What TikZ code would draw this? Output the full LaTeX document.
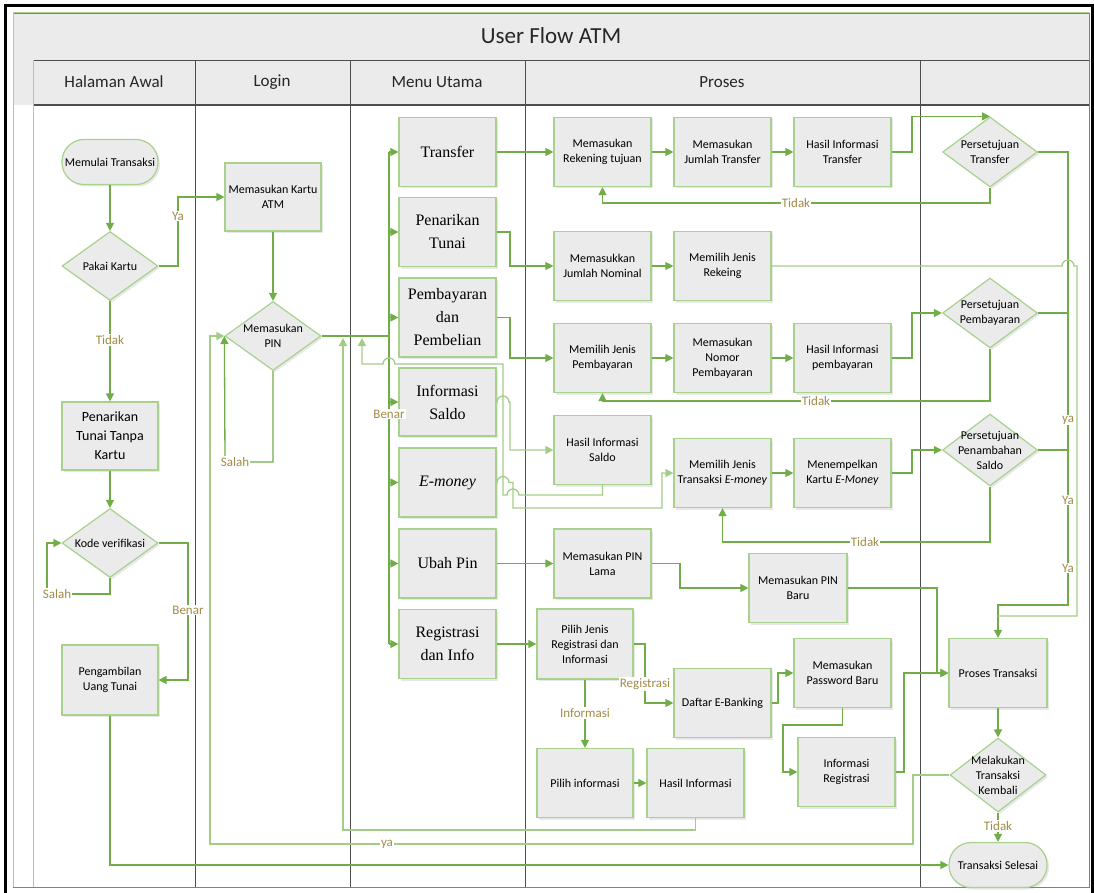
\documentclass[tikz,border=0pt]{standalone}
\usepackage{fontspec}
\setmainfont{Carlito}
\newfontfamily\menufont{Liberation Serif}
\usetikzlibrary{arrows.meta,shapes.geometric,shadows}

\definecolor{boxfill}{HTML}{EBEBEB}
\definecolor{boxline}{HTML}{A9D18E}
\definecolor{flowgreen}{HTML}{70AD47}
\definecolor{backgreen}{HTML}{A3CD86}
\definecolor{lblgold}{HTML}{A08C46}
\definecolor{lanegray}{HTML}{4D4D4D}

\tikzset{
  proc/.style={rectangle, draw=boxline, fill=boxfill, line width=1.2pt,
    minimum width=97pt, minimum height=69pt, inner sep=2pt, align=center,
    font=\fontsize{12}{15}\selectfont,
    drop shadow={shadow xshift=2pt, shadow yshift=-2pt, opacity=.18}},
  menu/.style={proc, font=\menufont\fontsize{16}{23}\selectfont},
  term/.style={proc, rounded corners=22pt, minimum height=45pt},
  dec/.style={diamond, draw=boxline, fill=boxfill, line width=1.2pt,
    minimum width=96pt, minimum height=69pt, inner sep=0pt,
    drop shadow={shadow xshift=2pt, shadow yshift=-2pt, opacity=.18}},
  dectext/.style={align=center, inner sep=0pt, font=\fontsize{12}{15}\selectfont},
  flow/.style={draw=flowgreen, line width=1.3pt, -{Triangle[length=8pt,width=8pt]}},
  link/.style={draw=flowgreen, line width=1.3pt},
  back/.style={draw=backgreen, line width=1.3pt, -{Triangle[length=8pt,width=8pt]}},
  backlink/.style={draw=backgreen, line width=1.3pt},
  lbl/.style={fill=white, text=lblgold, inner sep=1pt, font=\fontsize{13}{13}\selectfont},
  lane/.style={draw=lanegray, line width=0.9pt},
  lanehead/.style={text=black!85, font=\fontsize{17}{17}\selectfont},
}

\begin{document}
\begin{tikzpicture}[x=1pt,y=-1pt]
\useasboundingbox (0,0) rectangle (1094,893);

% swimlanes
\fill[boxfill] (13,13) rectangle (1089,105);
\draw[lane, draw=gray] (13,13) rectangle (1089,887);
\draw[boxline, line width=1pt] (13,887) -- (13,13) -- (1089,13);
\draw[lane] (33,60) -- (1089,60);
\draw[lane, line width=1.5pt] (33,105) -- (1089,105);
\draw[boxline, line width=1pt] (33,60) -- (33,887);
\foreach \x in {195,350,525,920}
  \draw[lane] (\x,60) -- (\x,887);
\node[font=\fontsize{23}{23}\selectfont, text=black!85] (title) at (551,36) {User Flow ATM};
\node[lanehead] (hawal) at (114,82) {Halaman Awal};
\node[lanehead] (hlogin) at (272,82) {Login};
\node[lanehead] (hmenu) at (437,82) {Menu Utama};
\node[lanehead] (hproses) at (722,82) {Proses};
\draw[line width=3pt] (5,900) -- (5,6) -- (1092,6) -- (1092,900);

% halaman awal
\node[term, minimum width=96pt] (start) at (110,162) {Memulai Transaksi};
\node[dec, label={[dectext]center:Pakai Kartu}] (pakai) at (110,266) {};
\node[proc, minimum width=96pt, minimum height=68pt, font=\fontsize{14}{19}\selectfont] (tanpa) at (110,436) {Penarikan\\Tunai Tanpa\\Kartu};
\node[dec, label={[dectext]center:Kode verifikasi}] (kode) at (110,543) {};
\node[proc, minimum width=96pt, minimum height=70pt] (ambil) at (110,680) {Pengambilan\\Uang Tunai};

% login
\node[proc, minimum width=96pt, minimum height=68pt] (kartu) at (273,197) {Memasukan Kartu\\ATM};
\node[dec, label={[dectext]center:{Memasukan\\PIN}}] (pin) at (273,336) {};

% menu utama
\node[menu] (mtransfer) at (447.5,152) {Transfer};
\node[menu] (mtarik) at (447.5,232) {Penarikan\\Tunai};
\node[menu, minimum height=79pt] (mbayar) at (447.5,317.5) {Pembayaran\\dan\\Pembelian};
\node[menu, minimum height=68pt] (msaldo) at (447.5,402) {Informasi\\Saldo};
\node[menu] (memoney) at (447.5,482.5) {\textit{E-money}};
\node[menu] (mubah) at (447.5,563.5) {Ubah Pin};
\node[menu] (mreg) at (447.5,644) {Registrasi\\dan Info};

% proses
\node[proc] (rektuj) at (602.5,152) {Memasukan\\Rekening tujuan};
\node[proc] (jmltrans) at (722.5,152) {Memasukan\\Jumlah Transfer};
\node[proc] (hasiltrans) at (842.5,152) {Hasil Informasi\\Transfer};
\node[proc] (jmlnom) at (602.5,266) {Memasukkan\\Jumlah Nominal};
\node[proc] (jenisrek) at (722.5,266) {Memilih Jenis\\Rekeing};
\node[proc] (jenisbayar) at (602.5,358) {Memilih Jenis\\Pembayaran};
\node[proc] (nomorbayar) at (722.5,358) {Memasukan\\Nomor\\Pembayaran};
\node[proc] (hasilbayar) at (842.5,358) {Hasil Informasi\\pembayaran};
\node[proc] (hasilsaldo) at (602.5,450) {Hasil Informasi\\Saldo};
\node[proc] (jenisemoney) at (722.5,473) {Memilih Jenis\\Transaksi \textit{E-money}};
\node[proc] (tempel) at (842.5,473) {Menempelkan\\Kartu \textit{E-Money}};
\node[proc] (pinlama) at (602.5,563.5) {Memasukan PIN\\Lama};
\node[proc, minimum width=98pt] (pinbaru) at (798,588) {Memasukan PIN\\Baru};
\node[proc, minimum width=96pt, minimum height=70pt] (pilihreg) at (585,644) {Pilih Jenis\\Registrasi dan\\Informasi};
\node[proc] (daftar) at (722.5,703) {Daftar E-Banking};
\node[proc] (password) at (842.5,673) {Memasukan\\Password Baru};
\node[proc] (inforeg) at (846.5,772) {Informasi\\Registrasi};
\node[proc, minimum width=96pt] (pilihinfo) at (585,783) {Pilih informasi};
\node[proc] (hasilinfo) at (695.5,783) {Hasil Informasi};

% persetujuan dan akhir
\node[dec, minimum width=95pt, minimum height=70pt, label={[dectext]center:{Persetujuan\\Transfer}}] (stransfer) at (990,152) {};
\node[dec, minimum width=95pt, minimum height=70pt, label={[dectext]center:{Persetujuan\\Pembayaran}}] (sbayar) at (990,313) {};
\node[dec, minimum width=95pt, minimum height=72pt, label={[dectext]center:{Persetujuan\\Penambahan\\Saldo}}] (ssaldo) at (990,450) {};
\node[proc, minimum width=98pt] (proses) at (998,673) {Proses Transaksi};
\node[dec, minimum width=96pt, minimum height=74pt, label={[dectext]center:{Melakukan\\Transaksi\\Kembali}}] (lagi) at (998,775) {};
\node[term, minimum width=98pt] (selesai) at (998,865) {Transaksi Selesai};

% alur halaman awal
\draw[flow] (start) -- (pakai);
\draw[flow] (pakai.east) -- (178,266) |- (kartu.west);
\draw[flow] (pakai.south) -- (tanpa.north);
\draw[flow] (tanpa.south) -- (kode.north);
\draw[flow] (kode.south) |- (47,594) |- (kode.west);
\draw[flow] (kode.east) -- (188,543) |- (ambil.east);
\draw[flow] (ambil.south) |- (selesai.west);

% alur login
\coordinate (bus) at (389,336);
\draw[flow] (kartu.south) -- (pin.north);
\draw[flow] (pin.south) |- (225,462) -- (pin.west);
\draw[link] (pin.east) -- (bus);
\draw[link] (bus |- mtransfer.west) -- (bus |- mreg.west);
\foreach \b in {mtransfer,mtarik,mbayar,msaldo,memoney,mubah,mreg}
  \draw[flow] (bus |- \b.west) -- (\b.west);

% menu ke proses
\draw[flow] (mtransfer.east) -- (rektuj.west);
\draw[flow] (mtarik.east) -- (510,232) |- (jmlnom.west);
\draw[flow] (mbayar.east) -- (510,317.5) |- (jenisbayar.west);
\draw[back] (msaldo.east) -- (497,402) arc[start angle=180, end angle=0, radius=6pt] -- (510,402) |- (hasilsaldo.west);
\draw[back] (memoney.east) -- (497,482.5) arc[start angle=180, end angle=0, radius=6pt] -- (513,482.5) -- (513,508) -| (662,473) -- (jenisemoney.west);
\draw[flow] (mubah.east) -- (pinlama.west);
\draw[flow] (mreg.east) -- (pilihreg.west);
\draw[back] (hasilsaldo.south) -- (602.5,495) -- (519,495) arc[start angle=0, end angle=180, radius=6pt]
  -- (503,495) -- (503,364) -- (395,364) arc[start angle=0, end angle=180, radius=6pt] -- (362,364) -- (362,338);

% proses
\foreach \a/\b in {rektuj/jmltrans, jmltrans/hasiltrans, jmlnom/jenisrek, jenisbayar/nomorbayar,
  nomorbayar/hasilbayar, jenisemoney/tempel, pilihinfo/hasilinfo}
  \draw[flow] (\a) -- (\b);
\draw[flow] (hasiltrans.east) -- (912,152) |- (stransfer.north);
\draw[flow] (hasilbayar.east) -- (912,358) |- (sbayar.west);
\draw[flow] (tempel.east) -- (912,473) |- (ssaldo.west);
\draw[flow] (stransfer.south) -- (990,203) -| (rektuj.south);
\draw[flow] (sbayar.south) -- (990,401) -| (jenisbayar.south);
\draw[flow] (ssaldo.south) -- (990,542) -| (jenisemoney.south);
\draw[flow] (pinlama.east) -- (680,563.5) |- (pinbaru.west);
\draw[flow] (pinbaru.east) -- (937,588) |- (proses.west);
\draw[flow] (pilihreg.east) -- (645,644) |- (daftar.west);
\draw[flow] (pilihreg.south) -- (pilihinfo.north);
\draw[flow] (daftar.east) -- (778,703) |- (password.west);
\draw[flow] (password.south) |- (783,725) |- (inforeg.west);
\draw[flow] (inforeg.east) -- (904,772) |- (proses.west);
\draw[back] (hasilinfo.south) |- (343,830) -- (343,338);

% persetujuan ke proses transaksi
\draw[flow] (stransfer.east) -- (1068,152) |- (998,605) -- (proses.north);
\draw[link] (sbayar.east) -- (1068,313);
\draw[link] (ssaldo.east) -- (1068,450);
\draw[backlink] (jenisrek.east) -- (1062,266) arc[start angle=180, end angle=0, radius=6pt] -- (1077,266) |- (998,616);
\draw[flow] (proses) -- (lagi);
\draw[flow] (lagi) -- (selesai);
\draw[back] (lagi.west) -| (913,844) -- (210,844) |- (pin.west);

% label
\node[lbl] (lya) at (178,216) {Ya};
\node[lbl] (ltidak) at (110,340) {Tidak};
\node[lbl] (lsalah) at (57,594) {Salah};
\node[lbl] (lbenar) at (188,610) {Benar};
\node[lbl] (lsalahpin) at (235,462) {Salah};
\node[lbl] (lbenarpin) at (389,414) {Benar};
\node[lbl] (ltidak1) at (796,203) {Tidak};
\node[lbl] (ltidak2) at (816,401) {Tidak};
\node[lbl] (ltidak3) at (865,542) {Tidak};
\node[lbl] (lya1) at (1068,420) {ya};
\node[lbl] (lya2) at (1068,500) {Ya};
\node[lbl] (lya3) at (1068,568) {Ya};
\node[lbl] (lreg) at (645,684) {Registrasi};
\node[lbl] (linfo) at (585,713) {Informasi};
\node[lbl] (ltidak4) at (998,826) {Tidak};
\node[lbl] (lyalagi) at (387,844) {ya};
\end{tikzpicture}
\end{document}
